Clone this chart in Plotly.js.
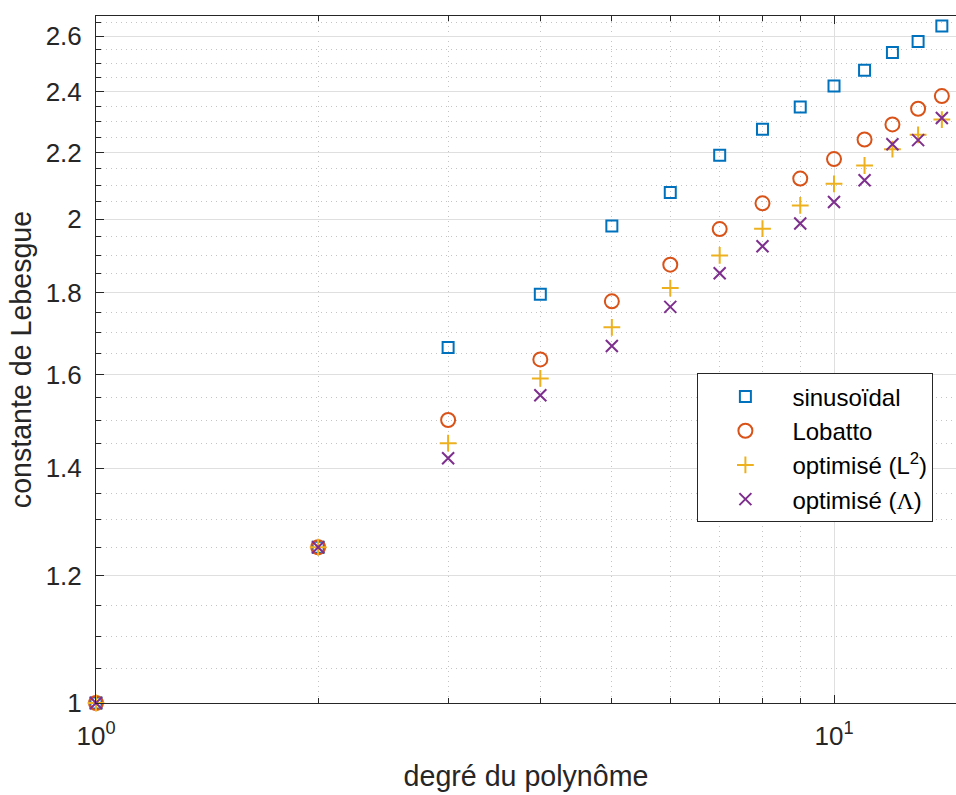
<!DOCTYPE html>
<html>
<head>
<meta charset="utf-8">
<script src="https://cdn.plot.ly/plotly-3.0.1.min.js"></script>
<style>html,body{margin:0;padding:0;background:#fff;}#chart{width:956px;height:795px;}</style>
</head>
<body>
<div id="chart"></div>
<script>
// degrees of the polynomial
const degrees = [1, 2, 3, 4, 5, 6, 7, 8, 9, 10, 11, 12, 13, 14];
// Lebesgue constants
const sinusoidal = [1, 1.25, 1.664, 1.796, 1.981, 2.078, 2.192, 2.275, 2.349, 2.421, 2.476, 2.540, 2.580, 2.638];
const lobatto    = [1, 1.25, 1.500, 1.636, 1.778, 1.874, 1.972, 2.046, 2.120, 2.180, 2.242, 2.291, 2.343, 2.386];
const optimL2    = [1, 1.25, 1.451, 1.592, 1.713, 1.812, 1.899, 1.973, 2.040, 2.104, 2.160, 2.211, 2.257, 2.307];
const optimLam   = [1, 1.25, 1.420, 1.554, 1.668, 1.764, 1.851, 1.924, 1.988, 2.050, 2.115, 2.227, 2.240, 2.312];
const seriesNames = ['sinusoïdal', 'Lobatto', 'optimisé (L<sup>2</sup>)',
  'optimisé (<span style="font-family:Liberation Serif">Λ</span>)'];

// tick labels
const xTickVals = [1, 10];
const xTickText = ['10<sup>0</sup>', '10<sup>1</sup>'];
const xMinorVals = [2, 3, 4, 5, 6, 7, 8, 9];
const yTickVals = [1, 1.2, 1.4, 1.6, 1.8, 2, 2.2, 2.4, 2.6];
const yTickText = ['1', '1.2', '1.4', '1.6', '1.8', '2', '2.2', '2.4', '2.6'];
const yMinorVals = [1.05, 1.1, 1.15, 1.25, 1.3, 1.35, 1.45, 1.5, 1.55, 1.65, 1.7, 1.75,
  1.85, 1.9, 1.95, 2.05, 2.1, 2.15, 2.25, 2.3, 2.35, 2.45, 2.5, 2.55, 2.65];

const colors = ['#0072BD', '#D95319', '#EDB120', '#7E2F8E'];
const symbols = ['square-open', 'circle-open', 'cross-thin-open', 'x-thin-open'];
const sizes = [11, 14, 12, 12];
const ys = [sinusoidal, lobatto, optimL2, optimLam];

const traces = ys.map((y, i) => ({
  x: degrees, y: y, type: 'scatter', mode: 'markers', name: seriesNames[i],
  cliponaxis: false,
  marker: {symbol: symbols[i], size: sizes[i], color: colors[i],
           line: {color: colors[i], width: 2}}
}));

const FONT = 'Liberation Sans, Arial, Helvetica, sans-serif';
const AX = '#262626';
const layout = {
  width: 956, height: 795,
  margin: {l: 96, r: 0, t: 16, b: 92, pad: 0},
  paper_bgcolor: '#ffffff', plot_bgcolor: '#ffffff',
  font: {family: FONT, color: AX, size: 26},
  showlegend: true,
  legend: {
    x: 0.6993, y: 0.4797, xanchor: 'left', yanchor: 'top',
    bgcolor: '#ffffff', bordercolor: AX, borderwidth: 1,
    font: {family: FONT, size: 24, color: '#000000'},
    itemwidth: 84, tracegroupgap: 0
  },
  xaxis: {
    type: 'log', range: [0, 1.1653], autorange: false,
    tickmode: 'array', tickvals: xTickVals, ticktext: xTickText,
    ticks: 'inside', ticklen: 8, tickcolor: AX, tickwidth: 1,
    showline: true, linecolor: AX, linewidth: 1, mirror: 'ticks',
    showgrid: true, gridcolor: '#dfdfdf', gridwidth: 1,
    zeroline: false,
    tickfont: {family: FONT, size: 26, color: AX},
    ticklabelstandoff: 10,
    minor: {tickmode: 'array', tickvals: xMinorVals, ticks: 'inside', ticklen: 5,
            tickcolor: AX, showgrid: true, gridcolor: '#c4c4c4', griddash: '1px,4px', gridwidth: 1},
    title: {text: 'degré du polynôme', font: {family: FONT, size: 28.6, color: AX}, standoff: 15}
  },
  yaxis: {
    type: 'log', range: [0, Math.log10(2.676)], autorange: false,
    tickmode: 'array', tickvals: yTickVals, ticktext: yTickText,
    ticks: 'inside', ticklen: 8, tickcolor: AX, tickwidth: 1,
    showline: true, linecolor: AX, linewidth: 1, mirror: false,
    showgrid: true, gridcolor: '#dfdfdf', gridwidth: 1,
    zeroline: false,
    tickfont: {family: FONT, size: 26, color: AX},
    ticklabelstandoff: 8,
    minor: {tickmode: 'array', tickvals: yMinorVals, ticks: 'inside', ticklen: 5,
            tickcolor: AX, showgrid: true, gridcolor: '#c4c4c4', griddash: '1px,4px', gridwidth: 1},
    title: {text: 'constante de Lebesgue', font: {family: FONT, size: 28.6, color: AX}, standoff: 5}
  }
};

Plotly.newPlot('chart', traces, layout, {displayModeBar: false, staticPlot: true});
</script>
</body>
</html>
